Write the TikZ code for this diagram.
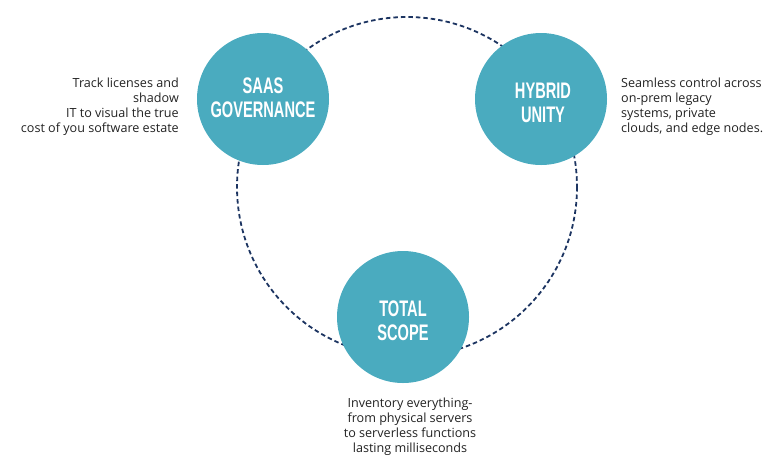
\documentclass[tikz,border=0pt]{standalone}
\usepackage{fontspec}
\setmainfont{Open Sans}
\newfontfamily\headfont[FakeStretch=0.65]{Liberation Sans}
\definecolor{teal1}{HTML}{4AABBF}
\definecolor{navy1}{HTML}{1C3461}
\definecolor{txt}{HTML}{222222}
\begin{document}
\begin{tikzpicture}[x=1pt,y=-1pt,
  hub/.style={circle,fill=teal1,minimum size=132pt,inner sep=0pt},
  hubtext/.style={text=white,font=\headfont\bfseries\fontsize{22.5}{24}\selectfont,
    align=center,inner sep=0pt,anchor=base},
  desc/.style={text=txt,font=\fontsize{12.6}{15}\selectfont,inner sep=0pt}]
\useasboundingbox (0,0) rectangle (783,464);
\draw[navy1,line width=1.8pt,dash pattern=on 4.5pt off 3pt] (407,187) circle[radius=170];
\node[hub] (saas) at (263,99) {};
\node[hubtext] (saast) at (263,117) {SAAS\\GOVERNANCE};
\node[hub] (hyb) at (541,99) {};
\node[hubtext] (hybt) at (543,122) {HYBRID\\UNITY};
\node[hub] (tot) at (403,317) {};
\node[hubtext] (tott) at (403,340) {TOTAL\\SCOPE};
\node[desc,align=right,anchor=base east] (d1) at (179,132) {Track licenses and\\shadow\\IT to visual the true\\cost of you software estate};
\node[desc,align=left,anchor=base west] (d2) at (621,132) {Seamless control across\\on-prem legacy\\systems, private\\clouds, and edge nodes.};
\node[desc,align=center,anchor=base] (d3) at (410,452) {Inventory everything-\\from physical servers\\to serverless functions\\lasting milliseconds};
\end{tikzpicture}
\end{document}
